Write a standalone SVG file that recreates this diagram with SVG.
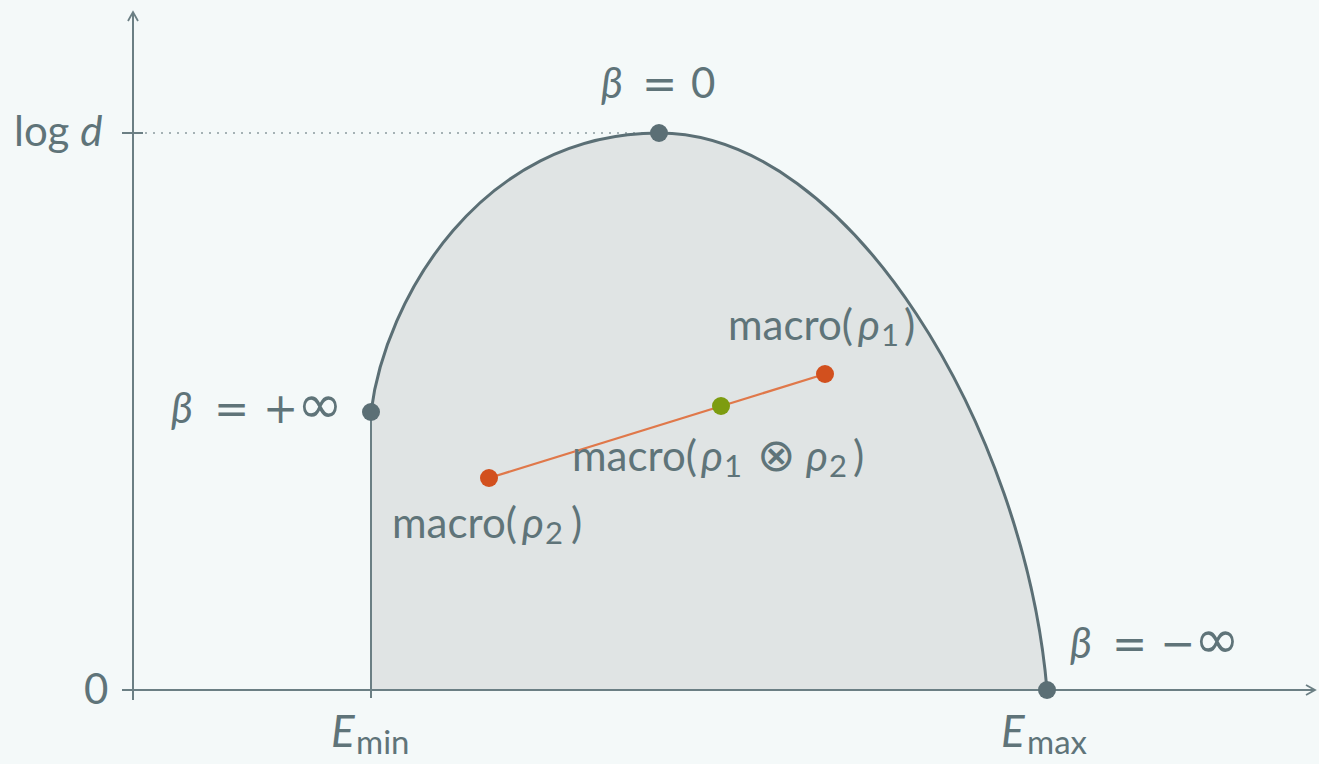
<svg xmlns="http://www.w3.org/2000/svg" width="1319" height="764" viewBox="0 0 1319 764">
<defs>
<style>
text{font-family:Lato,"Open Sans",sans-serif;fill:#5f7479;font-size:42px}
.i{font-style:italic}
.m{font-family:"DejaVu Sans",sans-serif}
.sub{font-size:31px}
.ax{stroke:#6b7f84;stroke-width:2;fill:none}
.dot{fill:#5b6f75}
</style>
<marker id="ar" viewBox="0 0 12 12" refX="10" refY="6" markerWidth="12" markerHeight="12" markerUnits="userSpaceOnUse" orient="auto">
<path d="M1,1 L10,6 L1,11" fill="none" stroke="#6b7f84" stroke-width="1.8"/>
</marker>
</defs>
<rect width="1319" height="764" fill="#f4f9f9"/>
<g id="region">
<path d="M371,690 L371,412 C385,300 480,133 659,133 C850,133 1025,430 1047,690 Z" fill="#e0e4e4"/>
</g>
<g id="axes">
<line class="ax" x1="133" y1="700" x2="133" y2="12" marker-end="url(#ar)"/>
<line class="ax" x1="122" y1="690" x2="1315" y2="690" marker-end="url(#ar)"/>
<line class="ax" x1="122" y1="133" x2="143" y2="133"/>
<line class="ax" x1="371" y1="690" x2="371" y2="698"/>
<line class="ax" x1="1047" y1="690" x2="1047" y2="698"/>
<line x1="145" y1="133" x2="650" y2="133" stroke="#8a9a9e" stroke-width="1.5" stroke-dasharray="2,6"/>
</g>
<g id="connectors">
<path d="M371,412 C385,300 480,133 659,133 C850,133 1025,430 1047,690" fill="none" stroke="#5b6f75" stroke-width="3"/>
<line x1="371" y1="412" x2="371" y2="690" stroke="#6b7f84" stroke-width="2"/>
<line x1="489" y1="478" x2="825" y2="374" stroke="#e0784a" stroke-width="2.2"/>
</g>
<g id="labels">
<text x="14" y="146">log <tspan class="i">d</tspan></text>
<text x="84" y="704">0</text>
<text y="747"><tspan class="i" x="331" font-size="44">E</tspan><tspan x="356" y="754" font-size="33">min</tspan></text>
<text y="747"><tspan class="i" x="1001" font-size="44">E</tspan><tspan x="1027" y="754" font-size="33">max</tspan></text>
</g>
<g id="node-beta0">
<circle class="dot" cx="659" cy="133" r="9"/>
<text y="98"><tspan class="i" x="601">β</tspan><tspan class="m" x="642">=</tspan><tspan x="691">0</tspan></text>
</g>
<g id="node-betaplus">
<circle class="dot" cx="371" cy="412" r="9"/>
<text y="423"><tspan class="i" x="171">β</tspan><tspan class="m" x="214">=</tspan><tspan class="m" x="263">+</tspan><tspan class="m" x="297" font-size="55">∞</tspan></text>
</g>
<g id="node-betaminus">
<circle class="dot" cx="1047" cy="690" r="9"/>
<text y="658"><tspan class="i" x="1070">β</tspan><tspan class="m" x="1112">=</tspan><tspan class="m" x="1160">−</tspan><tspan class="m" x="1194" font-size="55">∞</tspan></text>
</g>
<g id="node-rho1">
<circle cx="825" cy="374" r="9" fill="#d2501e"/>
<text y="340"><tspan x="728">macro(</tspan><tspan class="i" x="858">ρ</tspan><tspan class="sub" x="881" y="346">1</tspan><tspan x="904" y="340">)</tspan></text>
</g>
<g id="node-rho2">
<circle cx="489" cy="478" r="9" fill="#d2501e"/>
<text y="538"><tspan x="392">macro(</tspan><tspan class="i" x="522">ρ</tspan><tspan class="sub" x="545" y="544">2</tspan><tspan x="571" y="538">)</tspan></text>
</g>
<g id="node-rho12">
<circle cx="721" cy="406" r="9" fill="#7d9c10"/>
<text y="471"><tspan x="572">macro(</tspan><tspan class="i" x="701">ρ</tspan><tspan class="sub" x="724" y="477">1</tspan><tspan class="m" x="757" y="471" font-size="46">⊗</tspan><tspan class="i" x="806">ρ</tspan><tspan class="sub" x="829" y="477">2</tspan><tspan x="853" y="471">)</tspan></text>
</g>
</svg>
